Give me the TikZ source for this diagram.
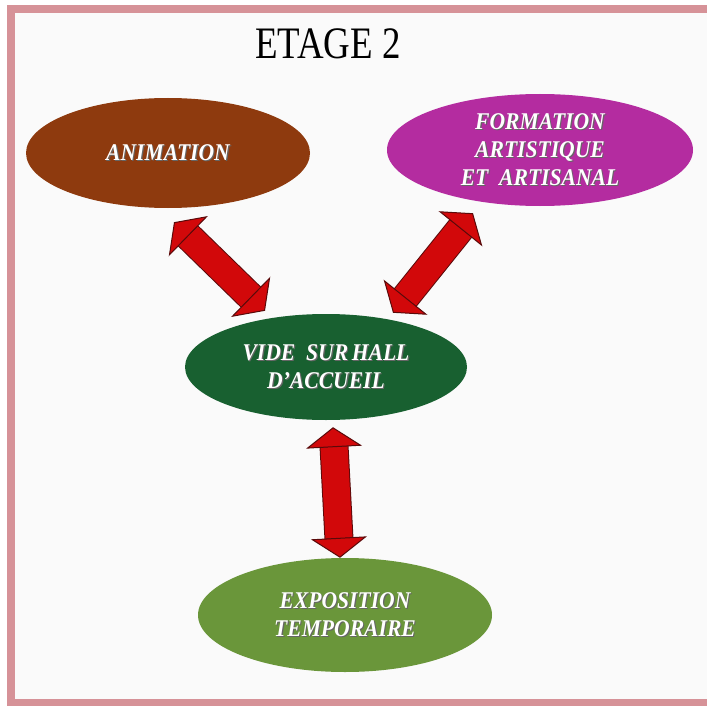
\documentclass[tikz,border=0pt]{standalone}
\usepackage{fontspec}
\setmainfont{Liberation Serif}
\usepackage{graphicx}
\usepackage{xcolor}
\definecolor{framepink}{RGB}{214,146,152}
\definecolor{bgwhite}{RGB}{250,250,250}
\definecolor{animbrown}{RGB}{142,58,14}
\definecolor{formmagenta}{RGB}{180,44,160}
\definecolor{videgreen}{RGB}{24,96,48}
\definecolor{expogreen}{RGB}{106,150,58}
\definecolor{arrowred}{RGB}{210,8,10}
\definecolor{arrowedge}{RGB}{90,10,10}
\usepackage{tikz}
\usetikzlibrary{arrows.meta, shapes.geometric}

\newcommand{\lbl}[1]{\scalebox{0.9}[1]{\rlap{\kern1.2pt\raisebox{-1.2pt}{\color{black!60}#1}}#1}}

\begin{document}
\begin{tikzpicture}[x=1pt, y=-1pt,
    blob/.style={ellipse, inner sep=0pt, text=white, align=center,
      font=\fontsize{24}{28}\selectfont\bfseries\itshape},
    bigtip/.tip={Triangle[width=56pt, length=20pt, color=arrowedge, fill=arrowred, line width=1pt]},
    dblarrow/.style={draw=arrowred, line width=27pt, bigtip-bigtip,
      preaction={draw=arrowedge, line width=29pt, arrows=-, shorten <=19pt, shorten >=19pt}}
]
\useasboundingbox (0,0) rectangle (707,706);
\draw[framepink, line width=8pt, fill=bgwhite] (11,9) rectangle (720,703);

\node[font=\fontsize{45}{50}\selectfont] (title) at (328,44) {\scalebox{0.82}[1]{ETAGE 2}};

\node[blob, fill=animbrown, minimum width=284pt, minimum height=110pt] (anim) at (168,153) {\lbl{ANIMATION}};
\node[blob, fill=formmagenta, minimum width=306pt, minimum height=112pt] (form) at (540,150)
  {\lbl{FORMATION}\\\lbl{ARTISTIQUE}\\\lbl{ET\enspace ARTISANAL}};
\node[blob, fill=videgreen, minimum width=282pt, minimum height=106pt] (vide) at (326,367)
  {\lbl{VIDE\enspace SUR\,HALL}\\\lbl{D'ACCUEIL}};
\node[blob, fill=expogreen, minimum width=294pt, minimum height=114pt] (expo) at (345,615)
  {\lbl{EXPOSITION}\\\lbl{TEMPORAIRE}};

\draw[dblarrow] ([shift={(6,14)}]anim.south) -- ([shift={(-61,-3)}]vide.north);
\draw[dblarrow] ([shift={(-67,7)}]form.south) -- ([shift={(67,-1)}]vide.north);
\draw[dblarrow] ([shift={(7,7)}]vide.south) -- ([shift={(-5,0)}]expo.north);
\end{tikzpicture}
\end{document}
